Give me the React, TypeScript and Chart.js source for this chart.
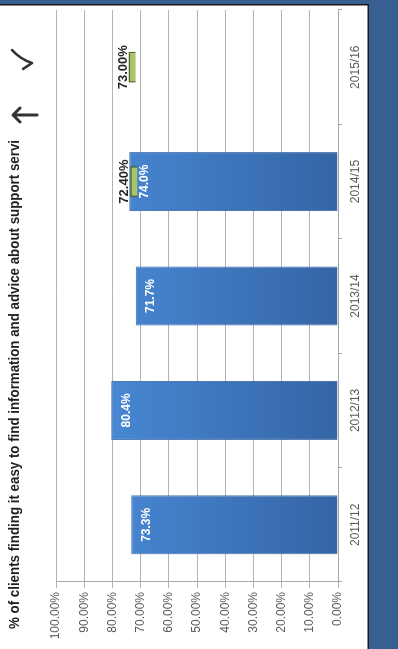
import React, { useEffect, useRef } from 'react';
import { Chart, registerables } from 'chart.js';

Chart.register(...registerables);

const categories = ['2011/12', '2012/13', '2013/14', '2014/15', '2015/16'];
const actualValues = [73.3, 80.4, 71.7, 74.0, null];
const actualLabels = ['73.3%', '80.4%', '71.7%', '74.0%', ''];
const targetValues = [null, null, null, 72.4, 73.0];
const targetLabels = ['', '', '', '72.40%', '73.00%'];
const titleText = '% of clients finding it easy to find information and advice about support servi';

const W = 649;
const H = 398;
const FONT = '"Liberation Sans", Arial, sans-serif';

const backdrop = {
  id: 'backdrop',
  beforeDraw(chart: any) {
    const ctx = chart.ctx;
    ctx.save();
    ctx.fillStyle = '#ffffff';
    ctx.fillRect(0, 0, W, H);
    ctx.fillStyle = '#375f92';
    ctx.fillRect(0, 369, W, H - 369);
    ctx.fillRect(645, 0, W - 645, H);
    ctx.fillStyle = '#1a1a1a';
    ctx.fillRect(0, 367.5, 645, 1.5);
    ctx.fillRect(643.5, 0, 1.5, 369);
    ctx.restore();
  },
};

const decorations = {
  id: 'decorations',
  afterDraw(chart: any) {
    const ctx = chart.ctx;
    ctx.save();
    // title
    ctx.font = `bold 14px ${FONT}`;
    ctx.fillStyle = '#1f1f1f';
    ctx.textBaseline = 'middle';
    ctx.textAlign = 'left';
    const w = ctx.measureText(titleText).width;
    const target = 489;
    ctx.translate(20, 15);
    ctx.scale(target / w, 1);
    ctx.fillText(titleText, 0, 0);
    ctx.restore();

    // up arrow
    ctx.save();
    ctx.strokeStyle = '#333333';
    ctx.lineWidth = 3;
    ctx.lineCap = 'round';
    ctx.lineJoin = 'round';
    ctx.beginPath();
    ctx.moveTo(534, 37);
    ctx.lineTo(534, 13);
    ctx.moveTo(527, 20);
    ctx.lineTo(534, 13);
    ctx.lineTo(541, 20);
    ctx.stroke();
    // check mark
    ctx.lineWidth = 2.5;
    ctx.beginPath();
    ctx.moveTo(580, 23);
    ctx.lineTo(586, 32);
    ctx.quadraticCurveTo(590, 20, 599, 12);
    ctx.stroke();
    ctx.restore();
  },
};

const valueLabels = {
  id: 'valueLabels',
  afterDatasetsDraw(chart: any) {
    const ctx = chart.ctx;
    ctx.save();
    const barMeta = chart.getDatasetMeta(0);
    ctx.font = `bold 12px ${FONT}`;
    ctx.fillStyle = '#ffffff';
    ctx.textAlign = 'center';
    ctx.textBaseline = 'middle';
    barMeta.data.forEach((el: any, i: number) => {
      if (actualValues[i] == null) return;
      ctx.fillText(actualLabels[i], el.x, el.y + 15);
    });
    const tMeta = chart.getDatasetMeta(1);
    ctx.font = `bold 13px ${FONT}`;
    ctx.fillStyle = '#262626';
    ctx.textBaseline = 'bottom';
    tMeta.data.forEach((el: any, i: number) => {
      if (targetValues[i] == null) return;
      const top = Math.min(el.y, el.base);
      ctx.fillText(targetLabels[i], el.x, top + 1);
    });
    ctx.restore();
  },
};

export default function App() {
  const ref = useRef<HTMLCanvasElement>(null);

  useEffect(() => {
    if (!ref.current) return;
    const barGradient = (c: any) => {
      const area = c.chart.chartArea;
      if (!area) return '#3f78c2';
      const g = c.chart.ctx.createLinearGradient(0, area.top, 0, area.bottom);
      g.addColorStop(0, '#4d8fde');
      g.addColorStop(1, '#3465a5');
      return g;
    };
    const chart = new Chart(ref.current, {
      type: 'bar',
      data: {
        labels: categories,
        datasets: [
          {
            label: 'Actual',
            data: actualValues as any,
            backgroundColor: barGradient,
            borderColor: '#3a6aaa',
            borderWidth: 1,
            barPercentage: 0.516,
            categoryPercentage: 1,
            grouped: false,
            order: 2,
          },
          {
            label: 'Target',
            data: targetValues.map((v) => (v == null ? null : [v - 1.3, v + 1.3])) as any,
            backgroundColor: '#a9c467',
            borderColor: '#4f6228',
            borderWidth: 1.5,
            barPercentage: 0.27,
            categoryPercentage: 1,
            grouped: false,
            order: 1,
          },
        ],
      },
      options: {
        responsive: false,
        animation: false,
        devicePixelRatio: 1,
        layout: { padding: { top: 56, right: 10, left: 0, bottom: 0 } },
        plugins: {
          legend: { display: false },
          title: { display: false },
          tooltip: { enabled: false },
        },
        scales: {
          x: {
            type: 'category',
            offset: true,
            grid: { offset: true, drawOnChartArea: false, tickLength: 4, color: '#a6a6a6' },
            border: { color: '#a6a6a6' },
            ticks: { color: '#595959', font: { size: 12, family: FONT }, padding: 6, maxRotation: 0 },
            afterFit: (s: any) => {
              s.height = 60;
            },
          },
          y: {
            min: 0,
            max: 100,
            ticks: {
              stepSize: 10,
              color: '#595959',
              font: { size: 12, family: FONT },
              padding: 4,
              callback: (v: any) => Number(v).toFixed(2) + '%',
            },
            grid: { color: '#b3b3b3', tickLength: 6 },
            border: { color: '#a6a6a6' },
            afterFit: (s: any) => {
              s.width = 67;
            },
          },
        },
      },
      plugins: [backdrop, valueLabels, decorations],
    });
    return () => chart.destroy();
  }, []);

  return (
    <div
      style={{
        position: 'fixed',
        left: 0,
        top: 0,
        width: W,
        height: H,
        transformOrigin: '0 0',
        transform: `rotate(-90deg) translate(-${W}px, 0px)`,
      }}
    >
      <canvas ref={ref} width={W} height={H} style={{ display: 'block', width: W, height: H }} />
    </div>
  );
}
